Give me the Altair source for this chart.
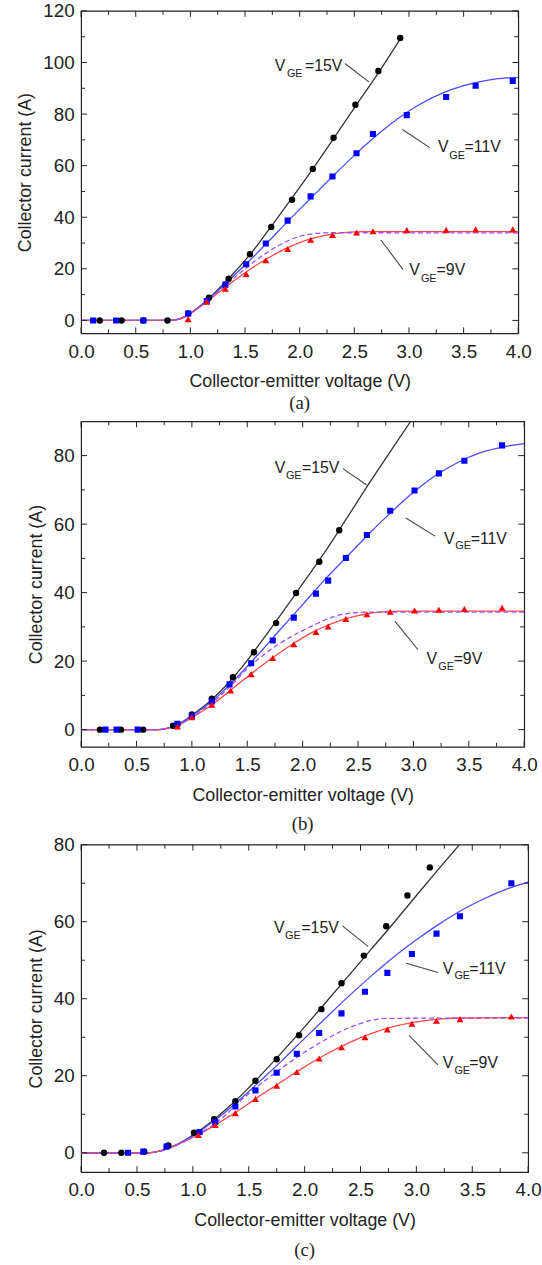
import altair as alt
import pandas as pd

FONT = "Liberation Sans"
SERIF = "Liberation Serif"
INK = "#222222"

# ---------------- shared axis values ----------------
X_LABELS = [0.0, 0.5, 1.0, 1.5, 2.0, 2.5, 3.0, 3.5, 4.0]
X_MINOR = [0.25, 0.75, 1.25, 1.75, 2.25, 2.75, 3.25, 3.75]
SERIES = ["15V", "11V", "9V"]

# ---------------- panel (a) ----------------
A_Y_LABELS = [0, 20, 40, 60, 80, 100, 120]
A_Y_MINOR = [10, 30, 50, 70, 90, 110]

A15_X = [0.17, 0.37, 0.57, 0.79, 0.98, 1.17, 1.35, 1.545, 1.74, 1.93, 2.12, 2.31, 2.51, 2.72, 2.92]
A15_Y = [0, 0, 0, 0, 2.7, 8.8, 16.2, 25.7, 36.2, 46.8, 58.7, 70.8, 83.6, 96.7, 109.5]
A11_X = [0.11, 0.32, 0.57, 0.98, 1.15, 1.32, 1.51, 1.69, 1.89, 2.10, 2.30, 2.52, 2.67, 2.98, 3.34, 3.61, 3.95]
A11_Y = [0, 0, 0, 2.7, 7.5, 13.9, 21.8, 29.8, 38.7, 48.1, 55.8, 64.8, 72.3, 79.6, 86.6, 91.0, 92.8]
A9_X = [0.98, 1.15, 1.32, 1.51, 1.69, 1.89, 2.10, 2.30, 2.52, 2.67, 2.98, 3.34, 3.61, 3.95]
A9_Y = [0.5, 7.3, 12.3, 18.0, 23.3, 27.7, 31.3, 33.1, 34.1, 34.6, 35.0, 35.1, 35.3, 35.3]

A15_FX = [0, 0.8, 0.9, 1.0, 1.1, 1.2, 1.3, 1.4, 1.545, 1.74, 1.93, 2.12, 2.31, 2.51, 2.72, 2.93]
A15_FY = [0, 0, 0.6, 2.8, 6.0, 9.8, 14.0, 18.5, 25.5, 36.5, 47.5, 58.8, 70.5, 83.0, 96.0, 109.8]
A11_FX = [0, 0.8, 0.9, 1.0, 1.1, 1.2, 1.3, 1.4, 1.5, 1.7, 1.9, 2.1, 2.3, 2.5, 2.7, 2.9, 3.1, 3.3, 3.5, 3.7, 3.9, 4.0]
A11_FY = [0, 0, 0.6, 2.8, 5.9, 9.5, 13.4, 17.4, 21.5, 30.0, 38.8, 47.3, 55.8, 64.0, 71.6, 78.3, 83.8, 88.0, 91.0, 93.0, 94.0, 94.2]
A9_FX = [0, 0.8, 0.9, 1.0, 1.1, 1.2, 1.3, 1.4, 1.5, 1.6, 1.7, 1.8, 1.9, 2.0, 2.1, 2.2, 2.3, 2.4, 2.5, 2.6, 2.8, 4.0]
A9_FY = [0, 0, 0.5, 2.6, 5.6, 8.9, 12.2, 15.4, 18.5, 21.3, 23.9, 26.3, 28.4, 30.2, 31.6, 32.7, 33.5, 34.0, 34.3, 34.4, 34.4, 34.4]
A9D_FX = [0, 0.8, 0.9, 1.0, 1.1, 1.2, 1.3, 1.4, 1.5, 1.6, 1.7, 1.8, 1.9, 2.0, 2.1, 2.2, 2.3, 4.0]
A9D_FY = [0, 0, 0.5, 2.7, 5.8, 9.2, 12.8, 16.5, 20.0, 23.3, 26.3, 28.9, 31.0, 32.6, 33.5, 33.9, 34.0, 33.9]

# ---------------- panel (b) ----------------
B_Y_LABELS = [0, 20, 40, 60, 80]
B_Y_MINOR = [10, 30, 50, 70]

B15_X = [0.17, 0.36, 0.56, 0.83, 1.0, 1.18, 1.37, 1.56, 1.76, 1.94, 2.15, 2.33]
B15_Y = [0, 0, 0, 1.15, 4.4, 9.0, 15.3, 22.6, 31.1, 39.9, 49.0, 58.2]
B11_X = [0.22, 0.32, 0.51, 0.87, 1.0, 1.18, 1.34, 1.535, 1.73, 1.92, 2.12, 2.23, 2.39, 2.58, 2.79, 3.01, 3.23, 3.46, 3.80]
B11_Y = [0, 0, 0, 1.7, 3.9, 8.2, 13.2, 19.4, 26.0, 32.7, 39.7, 43.5, 50.1, 56.8, 63.9, 69.8, 74.8, 78.5, 83.0]
B9_X = [0.87, 1.0, 1.18, 1.35, 1.535, 1.73, 1.92, 2.12, 2.23, 2.39, 2.58, 2.79, 3.01, 3.23, 3.46, 3.80]
B9_Y = [0.9, 3.6, 7.3, 11.4, 16.2, 20.9, 24.9, 28.5, 30.1, 32.3, 33.7, 34.4, 34.8, 35.0, 35.2, 35.6]

B15_FX = [0, 0.7, 0.8, 0.9, 1.0, 1.1, 1.2, 1.3, 1.4, 1.5, 1.6, 1.8, 2.0, 2.2, 2.4, 2.6, 2.8, 3.0]
B15_FY = [0, 0, 0.6, 2.0, 4.2, 6.6, 9.4, 12.6, 16.2, 20.2, 24.5, 33.4, 42.6, 51.8, 61.8, 71.9, 81.6, 91.2]
B11_FX = [0, 0.7, 0.8, 0.9, 1.0, 1.1, 1.2, 1.3, 1.4, 1.5, 1.6, 1.8, 2.0, 2.2, 2.4, 2.6, 2.8, 3.0, 3.2, 3.4, 3.6, 3.8, 4.0]
B11_FY = [0, 0, 0.6, 2.0, 4.0, 6.3, 8.8, 11.8, 15.0, 18.5, 22.0, 29.3, 36.5, 43.8, 50.5, 57.2, 63.5, 69.3, 74.2, 78.0, 80.8, 82.5, 83.5]
B9_FX = [0, 0.7, 0.8, 0.9, 1.0, 1.1, 1.2, 1.3, 1.4, 1.5, 1.6, 1.7, 1.8, 1.9, 2.0, 2.1, 2.2, 2.3, 2.4, 2.5, 2.6, 2.7, 2.8, 3.0, 4.0]
B9_FY = [0, 0, 0.5, 1.7, 3.5, 5.5, 7.7, 10.2, 12.8, 15.4, 17.9, 20.3, 22.6, 24.8, 26.8, 28.6, 30.1, 31.4, 32.5, 33.3, 33.9, 34.3, 34.5, 34.6, 34.6]
B9D_FX = [0, 0.7, 0.8, 0.9, 1.0, 1.1, 1.2, 1.3, 1.4, 1.5, 1.6, 1.7, 1.8, 1.9, 2.0, 2.1, 2.2, 2.3, 2.4, 2.5, 2.6, 4.0]
B9D_FY = [0, 0, 0.5, 1.7, 3.6, 5.8, 8.3, 11.2, 14.4, 17.8, 20.6, 23.1, 25.3, 27.2, 28.9, 30.5, 32.0, 33.2, 33.9, 34.2, 34.3, 34.3]

# ---------------- panel (c) ----------------
C_Y_LABELS = [0, 20, 40, 60, 80]
C_Y_MINOR = [10, 30, 50, 70]

C15_X = [0.205, 0.36, 0.565, 0.78, 1.01, 1.19, 1.38, 1.56, 1.75, 1.95, 2.15, 2.33, 2.53, 2.73, 2.92, 3.12]
C15_Y = [0, 0, 0.3, 1.9, 5.2, 8.7, 13.4, 18.7, 24.3, 30.5, 37.3, 44.0, 51.2, 58.8, 66.8, 74.1]
C11_X = [0.42, 0.556, 0.764, 1.06, 1.2, 1.38, 1.56, 1.75, 1.93, 2.13, 2.33, 2.54, 2.74, 2.96, 3.18, 3.39, 3.85]
C11_Y = [0, 0.3, 1.6, 5.4, 8.0, 12.0, 16.2, 20.8, 25.7, 31.1, 36.2, 41.8, 46.7, 51.6, 56.9, 61.4, 70.0]
C9_X = [1.05, 1.2, 1.38, 1.56, 1.75, 1.93, 2.13, 2.33, 2.54, 2.74, 2.96, 3.18, 3.39, 3.85]
C9_Y = [4.6, 7.2, 10.3, 14.0, 17.4, 21.0, 24.5, 27.4, 30.0, 32.0, 33.5, 34.3, 34.7, 35.4]

C15_FX = [0, 0.6, 0.7, 0.8, 0.9, 1.0, 1.1, 1.2, 1.3, 1.4, 1.5, 1.6, 1.8, 2.0, 2.2, 2.4, 2.6, 2.8, 3.0, 3.2, 3.4]
C15_FY = [0, 0, 0.4, 1.4, 2.8, 4.6, 6.6, 8.9, 11.4, 14.0, 16.9, 19.9, 26.2, 32.7, 39.4, 46.2, 53.0, 59.8, 66.8, 73.7, 80.5]
C11_FX = [0, 0.6, 0.7, 0.8, 0.9, 1.0, 1.1, 1.2, 1.3, 1.4, 1.5, 1.6, 1.8, 2.0, 2.2, 2.4, 2.6, 2.8, 3.0, 3.2, 3.4, 3.6, 3.8, 4.0]
C11_FY = [0, 0, 0.4, 1.4, 2.8, 4.5, 6.4, 8.5, 10.8, 13.3, 15.9, 18.6, 24.0, 29.7, 35.3, 40.8, 46.0, 50.9, 55.3, 59.3, 62.9, 65.9, 68.4, 70.3]
C9_FX = [0, 0.6, 0.7, 0.8, 0.9, 1.0, 1.1, 1.2, 1.3, 1.4, 1.5, 1.6, 1.7, 1.8, 1.9, 2.0, 2.2, 2.4, 2.6, 2.8, 3.0, 3.2, 3.4, 4.0]
C9_FY = [0, 0, 0.4, 1.3, 2.6, 4.0, 5.5, 7.2, 9.0, 10.8, 12.8, 14.8, 16.7, 18.6, 20.5, 22.3, 25.7, 28.6, 31.0, 32.8, 34.0, 34.7, 35.0, 35.1]
C9D_FX = [0, 0.6, 0.7, 0.8, 0.9, 1.0, 1.1, 1.2, 1.3, 1.4, 1.5, 1.6, 1.8, 2.0, 2.2, 2.4, 2.6, 2.7, 4.0]
C9D_FY = [0, 0, 0.4, 1.3, 2.6, 4.1, 5.7, 7.6, 10.0, 12.9, 15.3, 17.7, 22.1, 26.1, 29.6, 32.5, 34.4, 34.9, 35.0]

# ---------------- annotation placement (data units) ----------------
# per label: (V left x, V baseline y, GE left x, GE baseline y, "=.." left x,
#             leader x1, leader y1, leader x2, leader y2)
A_NOTES = [(1.773, 96.7, 1.883, 94.2, 2.048, 2.414, 99.6, 2.633, 92.5),
           (3.265, 65.3, 3.368, 62.7, 3.509, 2.94, 74.0, 3.19, 67.0),
           (3.002, 17.5, 3.109, 15.0, 3.253, 2.743, 31.2, 2.946, 19.7)]
B_NOTES = [(1.748, 75.0, 1.849, 73.3, 1.994, 2.363, 76.2, 2.578, 71.4),
           (3.277, 54.3, 3.378, 52.7, 3.517, 2.932, 61.8, 3.194, 56.5),
           (3.117, 19.1, 3.225, 17.5, 3.363, 2.834, 31.6, 3.04, 23.4)]
C_NOTES = [(1.727, 57.0, 1.824, 55.5, 1.971, 2.338, 58.9, 2.567, 53.6),
           (3.236, 46.4, 3.34, 45.0, 3.474, 2.909, 49.2, 3.193, 46.8),
           (3.236, 22.0, 3.34, 20.4, 3.474, 2.934, 30.5, 3.193, 22.8)]

LABEL_FS = 19
TITLE_FS = 18


def build_panel(caption, w, h, ydom, ylabels, yminor, pts, fits, notes, cap_offset):
    xscale = alt.Scale(domain=[0, 4], nice=False, zero=False)
    yscale = alt.Scale(domain=ydom, nice=False, zero=False)
    xaxis = alt.Axis(values=X_LABELS, format=".1f", labelFontSize=LABEL_FS, labelFont=FONT,
                     labelColor=INK, ticks=False, domain=False, grid=False,
                     labelPadding=9, labelFlush=False, labelOverlap=False,
                     title="Collector-emitter voltage (V)", titleFont=FONT,
                     titleFontSize=TITLE_FS, titleFontWeight="normal", titleColor=INK,
                     titlePadding=12)
    yaxis = alt.Axis(values=ylabels, format="d", labelFontSize=LABEL_FS, labelFont=FONT,
                     labelColor=INK, ticks=False, domain=False, grid=False,
                     labelPadding=7, labelFlush=False, labelOverlap=False,
                     title="Collector current (A)", titleFont=FONT,
                     titleFontSize=TITLE_FS, titleFontWeight="normal", titleColor=INK,
                     titlePadding=8)
    X = alt.X("v:Q", scale=xscale, axis=xaxis)
    Y = alt.Y("i:Q", scale=yscale, axis=yaxis)

    layers = []
    # fitted curves
    line_styles = [("#333333", None), ("#4a4aff", None), ("#ff4a4a", None), ("#9a4dff", [5, 3])]
    for (fx, fy), (col, dash) in zip(fits, line_styles):
        kw = dict(color=col, strokeWidth=1.3, interpolate="monotone", clip=True)
        if dash:
            kw["strokeDash"] = dash
        layers.append(alt.Chart(pd.DataFrame({"v": fx, "i": fy})).mark_line(**kw)
                      .encode(x=X, y=Y))
    # measured points
    point_styles = [("circle", "#000000", 42), ("square", "#0000ff", 38), ("triangle-up", "#ff0000", 50)]
    for (px, py), (shape, col, size) in zip(pts, point_styles):
        layers.append(alt.Chart(pd.DataFrame({"v": px, "i": py}))
                      .mark_point(shape=shape, filled=True, color=col, size=size,
                                  opacity=1, clip=True)
                      .encode(x=X, y=Y))
    # leader lines and labels
    for name, n in zip(SERIES, notes):
        vx, vy, gx, gy, ex, lx1, ly1, lx2, ly2 = n
        layers.append(alt.Chart(pd.DataFrame({"v": [lx1], "i": [ly1], "v2": [lx2], "i2": [ly2]}))
                      .mark_rule(color="#444444", strokeWidth=1.1)
                      .encode(x=X, y=Y, x2="v2:Q", y2="i2:Q"))
        for tx, ty, txt, fs in [(vx, vy, "V", 16), (gx, gy, "GE", 11), (ex, vy, "=" + name, 16)]:
            layers.append(alt.Chart(pd.DataFrame({"v": [tx], "i": [ty], "t": [txt]}))
                          .mark_text(align="left", baseline="alphabetic", font=FONT,
                                     fontSize=fs, color=INK)
                          .encode(x=X, y=Y, text="t:N"))
    # inward ticks on all four sides
    for major in (True, False):
        L = 6 if major else 4
        xv = X_LABELS if major else X_MINOR
        yv = ylabels if major else yminor
        dfx = pd.DataFrame({"v": xv})
        dfy = pd.DataFrame({"i": yv})
        layers.append(alt.Chart(dfx).mark_rule(color=INK, strokeWidth=1)
                      .encode(x=X, y=alt.value(h), y2=alt.value(h - L)))
        layers.append(alt.Chart(dfx).mark_rule(color=INK, strokeWidth=1)
                      .encode(x=X, y=alt.value(0), y2=alt.value(L)))
        layers.append(alt.Chart(dfy).mark_rule(color=INK, strokeWidth=1)
                      .encode(y=Y, x=alt.value(0), x2=alt.value(L)))
        layers.append(alt.Chart(dfy).mark_rule(color=INK, strokeWidth=1)
                      .encode(y=Y, x=alt.value(w), x2=alt.value(w - L)))

    return alt.layer(*layers).properties(
        width=w, height=h,
        title=alt.TitleParams(caption, orient="bottom", anchor="middle", frame="group",
                              font=SERIF, fontSize=19, fontWeight="normal",
                              color=INK, offset=cap_offset))


panel_a = build_panel("(a)", 442, 326, [-5, 120], A_Y_LABELS, A_Y_MINOR,
                      [(A15_X, A15_Y), (A11_X, A11_Y), (A9_X, A9_Y)],
                      [(A15_FX, A15_FY), (A11_FX, A11_FY), (A9_FX, A9_FY), (A9D_FX, A9D_FY)],
                      A_NOTES, 4)
panel_b = build_panel("(b)", 448, 329, [-5, 90], B_Y_LABELS, B_Y_MINOR,
                      [(B15_X, B15_Y), (B11_X, B11_Y), (B9_X, B9_Y)],
                      [(B15_FX, B15_FY), (B11_FX, B11_FY), (B9_FX, B9_FY), (B9D_FX, B9D_FY)],
                      B_NOTES, 11)
panel_c = build_panel("(c)", 452, 331, [-5, 80], C_Y_LABELS, C_Y_MINOR,
                      [(C15_X, C15_Y), (C11_X, C11_Y), (C9_X, C9_Y)],
                      [(C15_FX, C15_FY), (C11_FX, C11_FY), (C9_FX, C9_FY), (C9D_FX, C9D_FY)],
                      C_NOTES, 12)

lower = alt.concat(panel_b, panel_c, columns=1, spacing=0, align="none")
chart = alt.concat(panel_a, lower, columns=1, spacing=5, align="none").properties(
    padding={"left": 16, "top": -6, "right": 0, "bottom": 0},
    background="white",
).configure_view(stroke=INK, strokeWidth=1.2)

chart.save("out.html", embed_options={"renderer": "svg", "actions": False})
